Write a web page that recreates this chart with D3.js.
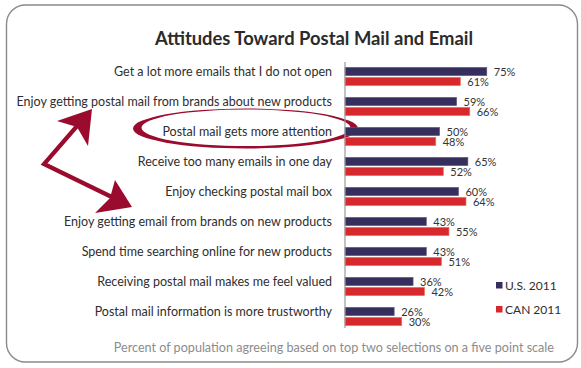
<!DOCTYPE html>
<html><head><meta charset="utf-8">
<script src="https://cdn.jsdelivr.net/npm/d3@7"></script>
<style>body{margin:0;background:#fff}svg{display:block}</style>
</head><body>
<script>
const categories = [
  "Get a lot more emails that I do not open",
  "Enjoy getting postal mail from brands about new products",
  "Postal mail gets more attention",
  "Receive too many emails in one day",
  "Enjoy checking postal mail box",
  "Enjoy getting email from brands on new products",
  "Spend time searching online for new products",
  "Receiving postal mail makes me feel valued",
  "Postal mail information is more trustworthy"
];
const us2011 = [75, 59, 50, 65, 60, 43, 43, 36, 26];
const can2011 = [61, 66, 48, 52, 64, 55, 51, 42, 30];
const seriesNames = ["U.S. 2011", "CAN 2011"];
const title = "Attitudes Toward Postal Mail and Email";
const footnote = "Percent of population agreeing based on top two selections on a five point scale";

const W = 581, H = 368;
const font = "Lato, 'Open Sans', sans-serif";
const colors = ["#362e5c", "#d7282d"];
const strokes = ["#5b547c", "#ec6a4a"];
const accent = "#9b0b2e";

const svg = d3.select("body").append("svg").attr("width", W).attr("height", H);

// frame
svg.append("rect").attr("x", 6.5).attr("y", 5).attr("width", 571).attr("height", 357)
  .attr("rx", 19).attr("ry", 19).attr("fill", "#fff").attr("stroke", "#8a8a8a").attr("stroke-width", 1.4);

// title
svg.append("text").attr("x", 314).attr("y", 45).attr("text-anchor", "middle")
  .attr("font-family", font).attr("font-weight", "bold").attr("font-size", 18.4)
  .attr("fill", "#2b2b2b").text(title);

const x = d3.scaleLinear().domain([0, 100]).range([345, 534]);
const y = d3.scaleBand().domain(categories).range([61.5, 331.5]);

// ellipse annotation (brush-like ring)
const ell = (cx, cy, rx, ry) => `M${cx - rx},${cy} a${rx},${ry} 0 1,0 ${2 * rx},0 a${rx},${ry} 0 1,0 ${-2 * rx},0 Z`;
svg.append("path")
  .attr("d", ell(245.5, 128.5, 112.5, 20) + ell(246, 127.8, 104.5, 18.3))
  .attr("fill", accent).attr("fill-rule", "evenodd");

// category labels
svg.append("g").selectAll("text").data(categories).join("text")
  .attr("x", 332).attr("y", d => y(d) + 14.5).attr("text-anchor", "end")
  .attr("font-family", font).attr("font-size", 12.5).attr("fill", "#2e2e2e").text(d => d);

// bars
const series = [us2011, can2011];
series.forEach((vals, si) => {
  const g = svg.append("g");
  g.selectAll("rect").data(vals).join("rect")
    .attr("x", x(0)).attr("y", (d, i) => y(categories[i]) + 6 + si * 10)
    .attr("width", d => x(d) - x(0)).attr("height", 8)
    .attr("fill", colors[si]).attr("stroke", strokes[si]).attr("stroke-width", 0.7);
  g.selectAll("text").data(vals).join("text")
    .attr("x", d => x(d) + 7).attr("y", (d, i) => y(categories[i]) + 14.8 + si * 10)
    .attr("font-family", font).attr("font-size", 11).attr("fill", "#333").text(d => d + "%");
});

// axis line
svg.append("line").attr("x1", 345).attr("x2", 345).attr("y1", 62).attr("y2", 328)
  .attr("stroke", "#9a9a9a").attr("stroke-width", 1.2);

// legend
seriesNames.forEach((n, i) => {
  const ly = 282 + i * 24;
  svg.append("rect").attr("x", 496).attr("y", ly).attr("width", 6.5).attr("height", 6.5).attr("fill", colors[i]);
  svg.append("text").attr("x", 505).attr("y", ly + 7.8).attr("font-family", font)
    .attr("font-size", 12).attr("fill", "#2e2e2e").text(n);
});

// arrows
svg.append("path").attr("d", "M84,118 L44,164 L120,201")
  .attr("fill", "none").attr("stroke", accent).attr("stroke-width", 4.2).attr("stroke-linejoin", "miter");
svg.append("path").attr("d", "M92,109 L57,121 L77,127 L88,146 Z").attr("fill", accent);
svg.append("path").attr("d", "M132,207 L115,180 L110,198 L95,213 Z").attr("fill", accent);

// footnote
svg.append("text").attr("x", 554).attr("y", 352).attr("text-anchor", "end")
  .attr("font-family", font).attr("font-size", 12.6).attr("fill", "#8c8c8c").text(footnote);
</script>
</body></html>
